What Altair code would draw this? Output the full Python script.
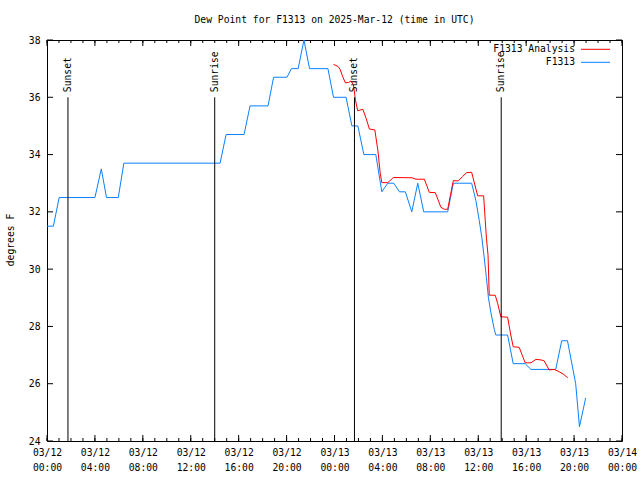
import altair as alt
import pandas as pd

# ---- data (times in UTC, "MM-DD HH:MM") ----
obs_time = ["03-12 00:00", "03-12 00:32", "03-12 01:01", "03-12 04:00", "03-12 04:32",
            "03-12 04:58", "03-12 05:57", "03-12 06:25", "03-12 14:27", "03-12 14:57",
            "03-12 16:27", "03-12 16:57", "03-12 18:27", "03-12 18:55", "03-12 20:02",
            "03-12 20:24", "03-12 20:58", "03-12 21:27", "03-12 21:55", "03-12 23:27",
            "03-12 23:55", "03-13 00:58", "03-13 01:27", "03-13 01:57", "03-13 02:27",
            "03-13 03:27", "03-13 03:57", "03-13 04:27", "03-13 04:57", "03-13 05:25",
            "03-13 05:55", "03-13 06:27", "03-13 06:57", "03-13 07:27", "03-13 09:27",
            "03-13 09:55", "03-13 11:27", "03-13 11:48", "03-13 12:05", "03-13 12:18",
            "03-13 12:30", "03-13 12:41", "03-13 12:51", "03-13 13:03", "03-13 13:20",
            "03-13 13:28", "03-13 14:27", "03-13 14:55", "03-13 15:55", "03-13 16:24",
            "03-13 18:28", "03-13 18:58", "03-13 19:27", "03-13 20:08", "03-13 20:27",
            "03-13 20:58"]
obs_dewpt = [31.5, 31.5, 32.5, 32.5, 33.5,
             32.5, 32.5, 33.7, 33.7, 34.7,
             34.7, 35.7, 35.7, 36.7, 36.7,
             37.0, 37.0, 38.0, 37.0, 37.0,
             36.0, 36.0, 35.0, 35.0, 34.0,
             34.0, 32.7, 33.0, 33.0, 32.7,
             32.7, 32.0, 33.0, 32.0, 32.0,
             33.0, 33.0, 32.4, 31.7, 31.1,
             30.4, 29.7, 29.0, 28.5, 27.9,
             27.7, 27.7, 26.7, 26.7, 26.5,
             26.5, 27.5, 27.5, 26.0, 24.5,
             25.5]

ana_time = ["03-12 23:55", "03-13 00:17", "03-13 00:28", "03-13 00:41", "03-13 00:55",
            "03-13 01:11", "03-13 01:23", "03-13 01:35", "03-13 01:45", "03-13 01:56",
            "03-13 02:22", "03-13 02:38", "03-13 02:55", "03-13 03:22", "03-13 03:37",
            "03-13 03:49", "03-13 03:57", "03-13 04:27", "03-13 04:55", "03-13 06:28",
            "03-13 06:48", "03-13 07:30", "03-13 07:55", "03-13 08:25", "03-13 08:53",
            "03-13 09:10", "03-13 09:27", "03-13 09:55", "03-13 10:20", "03-13 10:41",
            "03-13 11:02", "03-13 11:27", "03-13 11:57", "03-13 12:27", "03-13 12:35",
            "03-13 12:41", "03-13 12:49", "03-13 12:55", "03-13 13:25", "03-13 13:37",
            "03-13 13:53", "03-13 14:27", "03-13 14:43", "03-13 14:55", "03-13 15:25",
            "03-13 15:55", "03-13 16:24", "03-13 16:49", "03-13 17:15", "03-13 17:30",
            "03-13 17:55", "03-13 18:20", "03-13 18:45", "03-13 19:05", "03-13 19:28"]
ana_dewpt = [37.15, 37.08, 36.98, 36.72, 36.50,
             36.52, 36.57, 36.43, 35.90, 35.53,
             35.58, 35.27, 34.89, 34.86, 34.16,
             33.35, 33.02, 33.02, 33.20, 33.19,
             33.14, 33.14, 32.68, 32.67, 32.16,
             32.09, 32.09, 33.09, 33.08, 33.23,
             33.37, 33.38, 32.56, 32.56, 31.70,
             31.08, 30.49, 29.09, 29.09, 28.81,
             28.34, 28.32, 27.70, 27.29, 27.27,
             26.73, 26.73, 26.85, 26.83, 26.80,
             26.48, 26.50, 26.42, 26.34, 26.21]

sun_time = ["03-12 01:45", "03-12 14:00", "03-13 01:40", "03-13 13:55"]
sun_label = ["Sunset", "Sunrise", "Sunset", "Sunrise"]

y_ticks = [24, 26, 28, 30, 32, 34, 36, 38]
x_major = ["03-12 00:00", "03-12 04:00", "03-12 08:00", "03-12 12:00", "03-12 16:00",
           "03-12 20:00", "03-13 00:00", "03-13 04:00", "03-13 08:00", "03-13 12:00",
           "03-13 16:00", "03-13 20:00", "03-14 00:00"]

FONT = "DejaVu Sans Mono"
FS = 9.7
RED = "#ff0000"
BLUE = "#0a80ff"


def iso(t):
    return f"2025-{t[:5]}T{t[6:]}:00Z"


obs = pd.DataFrame({"t": [iso(t) for t in obs_time], "v": obs_dewpt})
ana = pd.DataFrame({"t": [iso(t) for t in ana_time], "v": ana_dewpt})
sun = pd.DataFrame({"t": [iso(t) for t in sun_time], "label": sun_label})
major = pd.DataFrame({"t": [iso(t) for t in x_major]})
minor = pd.DataFrame({"t": pd.date_range("2025-03-12T00:00:00Z", "2025-03-14T00:00:00Z",
                                         freq="1h").strftime("%Y-%m-%dT%H:%M:00Z")})
yt = pd.DataFrame({"v": y_ticks})
one = pd.DataFrame({"k": [0]})  # single row for annotation marks

x_vals = [alt.DateTime(year=2025, month=3, date=int(t[3:5]), hours=int(t[6:8]), utc=True)
          for t in x_major]

xscale = alt.Scale(type="utc",
                   domain=[alt.DateTime(year=2025, month=3, date=12, utc=True),
                           alt.DateTime(year=2025, month=3, date=14, utc=True)])
yscale = alt.Scale(domain=[24, 38], nice=False, zero=False)

xaxis = alt.Axis(values=x_vals, title=None, grid=False, ticks=False, domain=False,
                 labelExpr="[utcFormat(datum.value, '%m/%d'), utcFormat(datum.value, '%H:%M')]",
                 labelPadding=6, labelLineHeight=15, labelBaseline="top",
                 labelFlush=False, labelOverlap=False)
yaxis = alt.Axis(values=y_ticks, title=None, grid=False, ticks=False, domain=False,
                 labelPadding=7, format="d")

obs_line = alt.Chart(obs).mark_line(color=BLUE, strokeWidth=1).encode(
    x=alt.X("t:T", scale=xscale, axis=xaxis),
    y=alt.Y("v:Q", scale=yscale, axis=yaxis),
)
ana_line = alt.Chart(ana).mark_line(color=RED, strokeWidth=1).encode(
    x="t:T", y="v:Q"
)

sun_rule = alt.Chart(sun).mark_rule(color="black", strokeWidth=1).encode(
    x="t:T", y=alt.datum(36), y2=alt.datum(24)
)
sun_text = alt.Chart(sun).mark_text(angle=270, align="left", baseline="middle",
                                    font=FONT, fontSize=FS, color="black").encode(
    x="t:T", y=alt.datum(36.18), text="label:N"
)

# inward tick marks, gnuplot style (major every 4 h, minor every hour)
minor_bot = alt.Chart(minor).mark_rule(color="black").encode(
    x="t:T", y=alt.value(401), y2=alt.value(398))
minor_top = alt.Chart(minor).mark_rule(color="black").encode(
    x="t:T", y=alt.value(0), y2=alt.value(3))
major_bot = alt.Chart(major).mark_rule(color="black").encode(
    x="t:T", y=alt.value(401), y2=alt.value(395))
major_top = alt.Chart(major).mark_rule(color="black").encode(
    x="t:T", y=alt.value(0), y2=alt.value(6))
y_left = alt.Chart(yt).mark_rule(color="black").encode(
    y="v:Q", x=alt.value(0), x2=alt.value(6))
y_right = alt.Chart(yt).mark_rule(color="black").encode(
    y="v:Q", x=alt.value(575), x2=alt.value(569))

# legend (gnuplot style, top right inside the frame)
def txt(s, x, y, align="center", angle=0):
    return alt.Chart(one).mark_text(align=align, baseline="middle", font=FONT,
                                    fontSize=FS, color="black", angle=angle).encode(
        x=alt.value(x), y=alt.value(y), text=alt.value(s))


leg_txt1 = txt("F1313 Analysis", 528, 9.3, align="right")
leg_txt2 = txt("F1313", 528, 22.3, align="right")
leg_ln1 = alt.Chart(one).mark_rule(color=RED, strokeWidth=1).encode(
    x=alt.value(534), x2=alt.value(563), y=alt.value(9.3))
leg_ln2 = alt.Chart(one).mark_rule(color=BLUE, strokeWidth=1).encode(
    x=alt.value(534), x2=alt.value(563), y=alt.value(22.3))

title_txt = txt("Dew Point for F1313 on 2025-Mar-12 (time in UTC)", 287.5, -20)
ylab_txt = txt("degrees F", -36.5, 200, angle=270)

chart = alt.layer(
    obs_line, ana_line, sun_rule, sun_text,
    minor_bot, minor_top, major_bot, major_top, y_left, y_right,
    leg_txt1, leg_txt2, leg_ln1, leg_ln2, title_txt, ylab_txt,
).properties(
    width=575, height=401,
    autosize=alt.AutoSizeParams(type="none"),
    padding={"left": 47, "top": 40, "right": 18, "bottom": 39},
    background="white",
).configure_view(
    stroke="black", strokeWidth=1
).configure_axis(
    labelFont=FONT, labelFontSize=FS, labelColor="black"
)

chart.save("out.html", embed_options={"renderer": "svg", "actions": False})
